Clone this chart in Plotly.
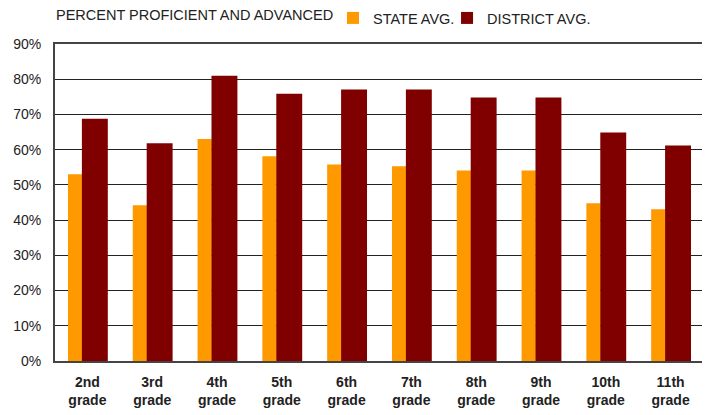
import plotly.graph_objects as go

grades = ["2nd<br>grade", "3rd<br>grade", "4th<br>grade", "5th<br>grade", "6th<br>grade",
          "7th<br>grade", "8th<br>grade", "9th<br>grade", "10th<br>grade", "11th<br>grade"]
state_avg = [53, 44.2, 63, 58.1, 55.8, 55.3, 54.1, 54.1, 44.8, 43.1]
district_avg = [68.8, 61.8, 81, 75.9, 77.1, 77.1, 74.8, 74.8, 64.9, 61.2]
y_ticks = [0, 10, 20, 30, 40, 50, 60, 70, 80, 90]

COLOR_STATE = "#FF9900"
COLOR_DISTRICT = "#800000"
FONT_FAMILY = "Liberation Sans"
COLOR_FONT = "#222222"

fig = go.Figure()

fig.add_trace(go.Bar(
    x=grades,
    y=state_avg,
    name="STATE AVG.",
    marker_color=COLOR_STATE,
    marker_line_width=0,
    width=0.22,
    offset=-0.30,
    showlegend=True,
    legend="legend",
))

fig.add_trace(go.Bar(
    x=grades,
    y=district_avg,
    name="DISTRICT AVG.",
    marker_color=COLOR_DISTRICT,
    marker_line_width=0,
    width=0.40,
    offset=-0.085,
    showlegend=True,
    legend="legend2",
))

# titulo a la izquierda, leyenda en la misma linea
fig.add_annotation(
    text="PERCENT PROFICIENT AND ADVANCED",
    xref="paper", yref="paper",
    x=-0.002, y=1.0915,
    xanchor="left", yanchor="middle",
    showarrow=False,
    font=dict(family=FONT_FAMILY, size=14.5, color=COLOR_FONT),
)

legend_style = dict(
    visible=True,
    orientation="h",
    xanchor="left",
    y=1.1325, yanchor="top",
    bgcolor="rgba(0,0,0,0)",
    font=dict(size=14.5, color=COLOR_FONT),
    itemwidth=30,
)

fig.update_layout(
    width=710,
    height=415,
    showlegend=True,
    barmode="overlay",
    plot_bgcolor="white",
    paper_bgcolor="white",
    font=dict(family=FONT_FAMILY, size=14, color=COLOR_FONT),
    margin=dict(l=47, r=15, t=36, b=62, autoexpand=False),
    legend=dict(x=0.429, **legend_style),
    legend2=dict(x=0.605, **legend_style),
    xaxis=dict(
        showline=True,
        linecolor="#444444",
        linewidth=2,
        mirror=True,
        showgrid=False,
        automargin=False,
        tickfont=dict(family=FONT_FAMILY, size=14, color=COLOR_FONT, weight="bold"),
        ticklabelstandoff=7,
    ),
    yaxis=dict(
        range=[0, 90],
        tickvals=y_ticks,
        ticktext=[f"{v}%" for v in y_ticks],
        showline=True,
        linecolor="#444444",
        linewidth=2,
        mirror=True,
        showgrid=True,
        gridcolor="#222222",
        gridwidth=1,
        zeroline=False,
        automargin=False,
        tickfont=dict(family=FONT_FAMILY, size=14, color=COLOR_FONT),
        ticklabelstandoff=9,
    ),
)

fig.write_html("out.html")
